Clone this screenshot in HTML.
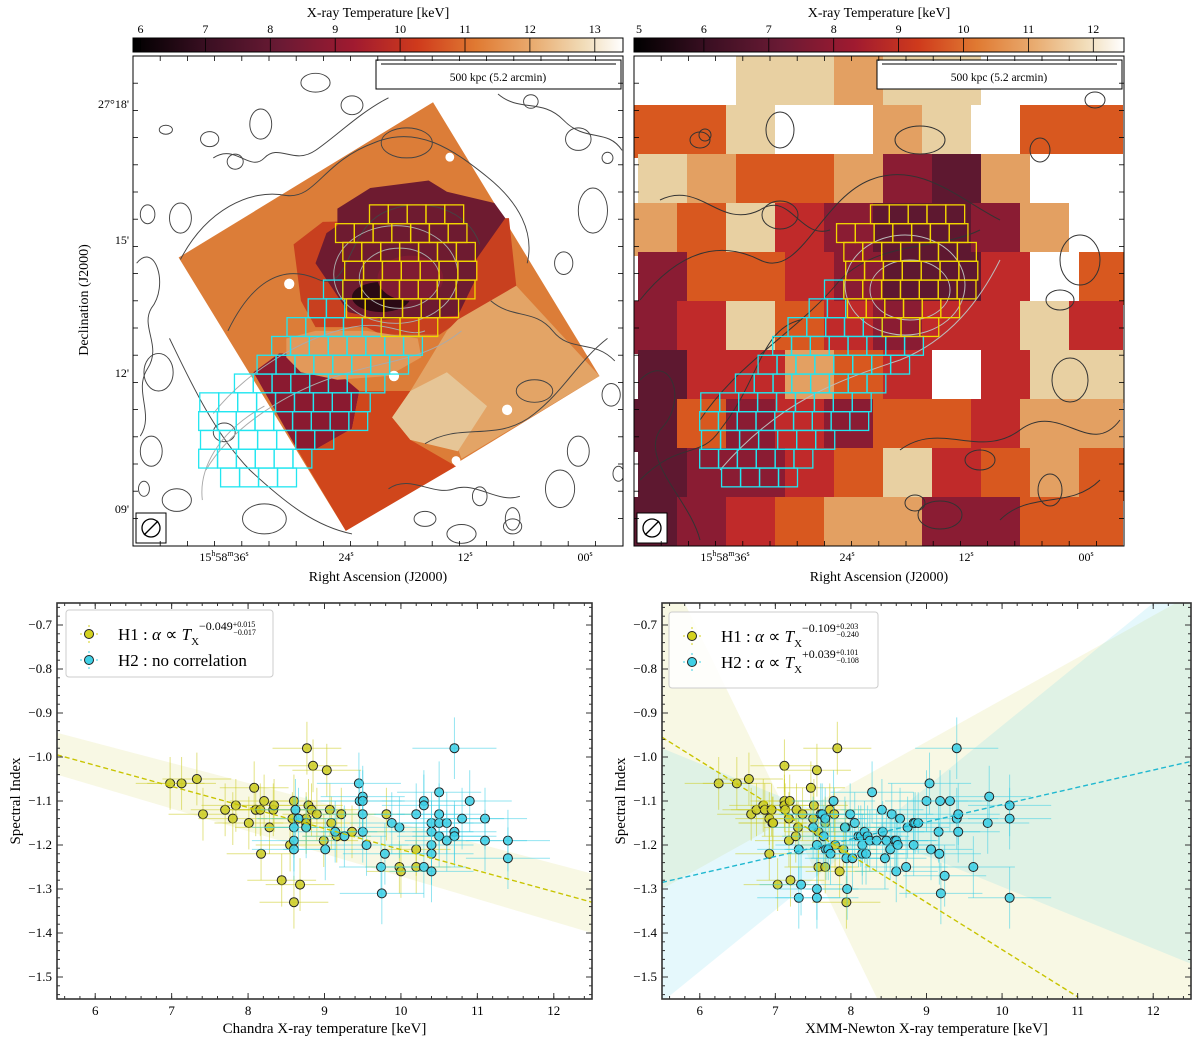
<!DOCTYPE html>
<html><head><meta charset="utf-8"><style>
html,body{margin:0;padding:0;background:#fff;width:1200px;height:1045px;overflow:hidden}
svg{display:block;font-family:"Liberation Serif",serif}
</style></head><body>
<svg id="fig" width="1200" height="1045" viewBox="0 0 1200 1045" xmlns="http://www.w3.org/2000/svg">
<defs>
<linearGradient id="cmap" x1="0" x2="1" y1="0" y2="0">
<stop offset="0" stop-color="#000"/><stop offset="0.15" stop-color="#3a0f22"/><stop offset="0.3" stop-color="#6a1a34"/><stop offset="0.45" stop-color="#a01a30"/><stop offset="0.58" stop-color="#cf3a1c"/><stop offset="0.7" stop-color="#e07a32"/><stop offset="0.82" stop-color="#e9ad72"/><stop offset="0.92" stop-color="#f1dcb8"/><stop offset="1" stop-color="#fff"/>
</linearGradient>
<clipPath id="clipL"><rect x="133" y="56" width="490" height="490"/></clipPath>
<clipPath id="clipR"><rect x="634" y="56" width="490" height="490"/></clipPath>
<clipPath id="clipP1"><rect x="57" y="603" width="535" height="396"/></clipPath>
<clipPath id="clipP2"><rect x="662" y="603" width="529" height="396"/></clipPath>
</defs>

<!-- ===== Top-left map ===== -->
<g>
<text x="378" y="17" text-anchor="middle" font-size="14">X-ray Temperature [keV]</text>
<rect x="133" y="38" width="490" height="14" fill="url(#cmap)" stroke="#000" stroke-width="1"/>
<g id="cbtL" font-size="12" text-anchor="middle"></g>
<rect x="133" y="56" width="490" height="490" fill="#fff"/>
<g clip-path="url(#clipL)">
<g transform="translate(60,0) scale(0.365,0.376)">
<polygon points="1022,272 1478,1000 783,1412 325,685" fill="#dc7d38"/>
<polygon points="530,990 600,940 700,940 820,1040 800,1140 700,1195 650,1195" fill="#8a1a30"/>
<polygon points="650,1195 783,1412 1085,1240 960,1170 910,1110 960,1040 820,1040 800,1140 700,1195" fill="#d0461b"/>
<polygon points="640,650 720,590 1230,580 1250,760 1100,850 1040,890 880,890 840,870 700,870 660,800" fill="#c8401f"/>
<polygon points="1090,850 1250,760 1478,1000 1100,1220 1085,1180 960,1170 910,1110 960,1040 1060,880" fill="#e3a466"/>
<polygon points="960,1040 1060,990 1170,1080 1090,1200 960,1170 910,1110" fill="#e6c596"/>
<polygon points="620,900 700,880 840,880 980,900 990,950 900,1000 760,1010 660,990 620,950" fill="#e2995a"/>
<polygon points="760,555 850,500 1010,480 1060,510 1190,540 1220,580 1140,690 1140,740 1090,840 880,850 790,830 700,700 730,620 760,600" fill="#6e1b30"/>
<ellipse cx="880" cy="790" rx="80" ry="40" fill="#2a0a14"/>
<ellipse cx="960" cy="740" rx="90" ry="60" fill="#801c32"/>
<circle cx="628" cy="755" r="14" fill="#fff"/><circle cx="915" cy="1000" r="14" fill="#fff"/><circle cx="1225" cy="1090" r="14" fill="#fff"/><circle cx="1068" cy="418" r="12" fill="#fff"/><circle cx="1085" cy="1225" r="12" fill="#fff"/>
<g fill="none" stroke="#444" stroke-width="2.6">
<path d="M330,690 C400,560 520,500 620,520 C700,530 720,430 860,380 C980,330 1080,400 1170,470 C1260,540 1300,620 1280,700"/>
<path d="M460,880 C520,760 600,700 700,740 C800,790 780,600 900,560 C1000,520 1120,560 1150,650"/>
<path d="M300,900 C350,1000 420,1150 520,1250 C620,1340 700,1400 800,1420"/>
<path d="M1000,1180 C1100,1120 1200,1180 1300,1100 C1380,1040 1420,960 1500,900"/>
<path d="M210,700 C260,640 300,760 250,820 C220,870 280,920 240,980 C200,1040 260,1100 220,1160"/>
<path d="M420,420 C480,380 520,460 560,420 C600,380 640,440 700,400 C760,360 820,300 900,260"/>
<path d="M1200,250 C1260,300 1320,260 1380,320 C1440,380 1500,340 1540,400"/>
<path d="M1180,800 C1240,850 1300,820 1350,880 C1400,940 1460,900 1520,960"/>
<path d="M900,1300 C960,1260 1020,1320 1080,1300 C1140,1280 1200,1340 1260,1320"/>
<ellipse cx="950" cy="380" rx="70" ry="40"/><ellipse cx="550" cy="330" rx="30" ry="40"/><ellipse cx="1420" cy="370" rx="35" ry="30"/>
<ellipse cx="410" cy="370" rx="25" ry="20"/><ellipse cx="1370" cy="1300" rx="40" ry="50"/><ellipse cx="1300" cy="1040" rx="50" ry="30"/>
<ellipse cx="330" cy="580" rx="30" ry="40"/><ellipse cx="270" cy="990" rx="40" ry="50"/><ellipse cx="1100" cy="1420" rx="40" ry="25"/>
<ellipse cx="250" cy="1200" rx="30" ry="40"/><ellipse cx="1240" cy="1380" rx="20" ry="30"/><ellipse cx="1460" cy="560" rx="40" ry="60"/>
<ellipse cx="290" cy="345" rx="18" ry="12"/><ellipse cx="480" cy="430" rx="22" ry="20"/><ellipse cx="240" cy="570" rx="20" ry="25"/>
<ellipse cx="700" cy="220" rx="40" ry="25"/><ellipse cx="800" cy="280" rx="30" ry="25"/><ellipse cx="1290" cy="270" rx="20" ry="18"/>
<ellipse cx="1500" cy="420" rx="15" ry="15"/><ellipse cx="1380" cy="700" rx="25" ry="30"/><ellipse cx="1510" cy="1050" rx="25" ry="30"/>
<ellipse cx="1420" cy="1200" rx="30" ry="40"/><ellipse cx="1240" cy="1400" rx="25" ry="20"/><ellipse cx="560" cy="1380" rx="60" ry="40"/>
<ellipse cx="320" cy="1330" rx="40" ry="30"/><ellipse cx="450" cy="1150" rx="30" ry="25"/><ellipse cx="230" cy="1300" rx="15" ry="20"/>
<ellipse cx="1000" cy="1380" rx="30" ry="20"/><ellipse cx="1150" cy="1320" rx="20" ry="25"/><ellipse cx="1530" cy="1260" rx="15" ry="20"/>
</g>
<g fill="none" stroke="#aaa" stroke-width="2.6">
<ellipse cx="930" cy="740" rx="110" ry="80"/><ellipse cx="920" cy="730" rx="170" ry="130"/>
<path d="M420,1100 C500,1000 650,900 800,870 C900,850 950,900 1000,880"/>
<path d="M400,1250 C460,1150 600,1050 760,1000 C880,960 1000,960 1100,880"/>
<path d="M390,1330 C380,1250 430,1150 560,1080"/>
</g>
</g>
<rect x="376" y="60" width="245" height="29" fill="#fff" stroke="#000" stroke-width="1"/>
<line x1="381" y1="64" x2="616" y2="64" stroke="#000" stroke-width="1"/>
<text x="498" y="81" text-anchor="middle" font-size="11.5">500 kpc (5.2 arcmin)</text>
<g id="gridL" fill="none" stroke-width="1.3"></g>
<rect x="136" y="513" width="30" height="30" fill="#fff" stroke="#000" stroke-width="1"/>
<circle cx="151" cy="528" r="9" fill="none" stroke="#000" stroke-width="1.3"/><line x1="144" y1="535" x2="158" y2="521" stroke="#000" stroke-width="1.3"/>
</g>
<rect x="133" y="56" width="490" height="490" fill="none" stroke="#000" stroke-width="1"/>
<g id="mtL"></g>
<g font-size="12">
<text x="129" y="108" text-anchor="end">27°18'</text><text x="129" y="244" text-anchor="end">15'</text><text x="129" y="377" text-anchor="end">12'</text><text x="129" y="513" text-anchor="end">09'</text>
<text x="224" y="561" text-anchor="middle">15<tspan font-size="8" dy="-5">h</tspan><tspan dy="5">58</tspan><tspan font-size="8" dy="-5">m</tspan><tspan dy="5">36</tspan><tspan font-size="8" dy="-5">s</tspan></text>
<text x="346" y="561" text-anchor="middle">24<tspan font-size="8" dy="-5">s</tspan></text><text x="465" y="561" text-anchor="middle">12<tspan font-size="8" dy="-5">s</tspan></text><text x="585" y="561" text-anchor="middle">00<tspan font-size="8" dy="-5">s</tspan></text>
</g>
<text x="378" y="581" text-anchor="middle" font-size="14">Right Ascension (J2000)</text>
<text transform="translate(88,300) rotate(-90)" text-anchor="middle" font-size="14">Declination (J2000)</text>
</g>

<!-- ===== Top-right map ===== -->
<g>
<text x="879" y="17" text-anchor="middle" font-size="14">X-ray Temperature [keV]</text>
<rect x="634" y="38" width="490" height="14" fill="url(#cmap)" stroke="#000" stroke-width="1"/>
<g id="cbtR" font-size="12" text-anchor="middle"></g>
<rect x="634" y="56" width="490" height="490" fill="#fff"/>
<g clip-path="url(#clipR)">
<g id="patchR"></g>
<g fill="none" stroke="#333" stroke-width="1">
<path d="M640,300 C680,250 720,240 760,260 C800,280 820,200 870,180 C920,160 960,200 1000,220"/>
<path d="M700,420 C740,360 800,330 840,280 C880,240 940,250 980,230"/>
<path d="M640,480 C680,440 700,460 720,430 C760,380 760,330 800,320"/>
<path d="M900,450 C940,420 980,460 1020,430 C1060,400 1090,460 1120,420"/>
<path d="M660,200 C700,180 720,230 760,210 C790,190 800,240 830,230"/>
<path d="M640,380 C670,350 690,400 660,430 C640,460 690,500 700,540"/>
<path d="M1000,520 C1030,490 1070,510 1100,480"/>
<ellipse cx="780" cy="130" rx="14" ry="18"/><ellipse cx="920" cy="140" rx="25" ry="14"/><ellipse cx="1050" cy="490" rx="12" ry="16"/>
<ellipse cx="700" cy="140" rx="10" ry="8"/><ellipse cx="1080" cy="260" rx="20" ry="25"/><ellipse cx="1095" cy="100" rx="10" ry="8"/>
<ellipse cx="940" cy="515" rx="22" ry="14"/><ellipse cx="780" cy="215" rx="18" ry="14"/>
<ellipse cx="705" cy="135" rx="6" ry="6"/><ellipse cx="1040" cy="150" rx="10" ry="12"/>
<ellipse cx="1070" cy="380" rx="18" ry="22"/><ellipse cx="980" cy="460" rx="15" ry="10"/><ellipse cx="1060" cy="300" rx="14" ry="10"/>
<ellipse cx="915" cy="503" rx="10" ry="8"/>
</g>
<g fill="none" stroke="#bbb" stroke-width="1">
<ellipse cx="910" cy="290" rx="40" ry="30"/><ellipse cx="905" cy="285" rx="60" ry="50"/>
<path d="M720,470 C780,400 840,380 900,360 C950,340 980,300 1000,260"/>
</g>
<rect x="877" y="60" width="245" height="29" fill="#fff" stroke="#000" stroke-width="1"/>
<line x1="882" y1="64" x2="1117" y2="64" stroke="#000" stroke-width="1"/>
<text x="999" y="81" text-anchor="middle" font-size="11.5">500 kpc (5.2 arcmin)</text>
<g id="gridR" fill="none" stroke-width="1.3"></g>
<rect x="637" y="513" width="30" height="30" fill="#fff" stroke="#000" stroke-width="1"/>
<circle cx="652" cy="528" r="9" fill="none" stroke="#000" stroke-width="1.3"/><line x1="645" y1="535" x2="659" y2="521" stroke="#000" stroke-width="1.3"/>
</g>
<rect x="634" y="56" width="490" height="490" fill="none" stroke="#000" stroke-width="1"/>
<g id="mtR"></g>
<g font-size="12">
<text x="725" y="561" text-anchor="middle">15<tspan font-size="8" dy="-5">h</tspan><tspan dy="5">58</tspan><tspan font-size="8" dy="-5">m</tspan><tspan dy="5">36</tspan><tspan font-size="8" dy="-5">s</tspan></text>
<text x="847" y="561" text-anchor="middle">24<tspan font-size="8" dy="-5">s</tspan></text><text x="966" y="561" text-anchor="middle">12<tspan font-size="8" dy="-5">s</tspan></text><text x="1086" y="561" text-anchor="middle">00<tspan font-size="8" dy="-5">s</tspan></text>
</g>
<text x="879" y="581" text-anchor="middle" font-size="14">Right Ascension (J2000)</text>
</g>

<!-- ===== Scatter panels ===== -->
<g id="p1"></g>
<g id="p2"></g>
</svg>

<script>
// ---------- scatter data (bottom-left, Chandra) ----------
const c1H1T = [6.98,7.13,7.33,7.41,7.7,7.8,7.84,8.01,8.08,8.1,8.16,8.21,8.28,8.33,8.34,8.17,8.44,8.55,8.58,8.6,8.6,8.68,8.76,8.76,8.76,8.77,8.79,8.83,8.85,8.9,8.99,9.03,9.07,9.09,9.16,9.22,9.36,9.81,9.98,10.0,10.2,10.2];
const c1H1A = [-1.06,-1.06,-1.05,-1.13,-1.12,-1.14,-1.11,-1.15,-1.07,-1.12,-1.12,-1.10,-1.16,-1.12,-1.11,-1.22,-1.28,-1.20,-1.14,-1.10,-1.33,-1.29,-1.14,-1.15,-1.16,-0.98,-1.11,-1.12,-1.02,-1.13,-1.19,-1.03,-1.12,-1.15,-1.18,-1.13,-1.17,-1.13,-1.25,-1.26,-1.21,-1.25];
const c1H2T = [8.6,8.6,8.6,8.62,8.66,8.76,9.01,9.14,9.26,9.45,9.46,9.5,9.5,9.5,9.5,9.55,9.74,9.75,9.79,9.88,9.98,10.2,10.3,10.3,10.3,10.4,10.4,10.4,10.4,10.4,10.5,10.5,10.5,10.5,10.6,10.6,10.7,10.7,10.7,10.8,10.9,11.1,11.1,11.4,11.4];
const c1H2A = [-1.16,-1.19,-1.21,-1.12,-1.14,-1.16,-1.21,-1.17,-1.18,-1.06,-1.10,-1.09,-1.10,-1.13,-1.17,-1.20,-1.25,-1.31,-1.22,-1.15,-1.16,-1.13,-1.10,-1.11,-1.25,-1.15,-1.17,-1.20,-1.22,-1.26,-1.08,-1.13,-1.15,-1.18,-1.15,-1.19,-0.98,-1.17,-1.18,-1.14,-1.10,-1.14,-1.19,-1.19,-1.23];
const c1FitT = [5.5,12.5];
const c1FitA = [-0.995,-1.33];
const c1BandHi = [-0.945,-1.265];
const c1BandLo = [-1.04,-1.40];
// ---------- scatter data (bottom-right, XMM) ----------
const c2H1T = [6.25,6.49,6.65,6.68,6.75,6.84,6.86,6.92,6.92,6.95,6.96,6.97,7.03,7.12,7.12,7.12,7.13,7.18,7.18,7.19,7.2,7.27,7.28,7.3,7.36,7.47,7.5,7.51,7.55,7.57,7.57,7.66,7.66,7.72,7.78,7.79,7.82,7.85,7.9,7.94,7.93];
const c2H1A = [-1.06,-1.06,-1.05,-1.13,-1.12,-1.11,-1.12,-1.14,-1.22,-1.12,-1.15,-1.15,-1.29,-1.02,-1.10,-1.11,-1.12,-1.14,-1.19,-1.10,-1.28,-1.18,-1.12,-1.16,-1.13,-1.07,-1.14,-1.11,-1.03,-1.17,-1.25,-1.25,-1.15,-1.12,-1.13,-1.20,-0.98,-1.26,-1.21,-1.33,-1.16];
const c2H2T = [7.31,7.31,7.34,7.5,7.55,7.55,7.55,7.6,7.62,7.64,7.66,7.67,7.7,7.73,7.77,7.92,7.94,7.95,7.99,8.02,8.05,8.1,8.13,8.15,8.15,8.18,8.2,8.22,8.25,8.28,8.34,8.41,8.42,8.45,8.47,8.52,8.54,8.58,8.6,8.6,8.62,8.65,8.73,8.75,8.83,8.83,8.85,8.89,9.0,9.04,9.06,9.16,9.17,9.18,9.19,9.24,9.31,9.4,9.4,9.42,9.42,9.62,9.81,9.83,10.1,10.1,10.1];
const c2H2A = [-1.21,-1.32,-1.29,-1.16,-1.20,-1.30,-1.32,-1.13,-1.13,-1.18,-1.14,-1.21,-1.21,-1.22,-1.10,-1.16,-1.23,-1.30,-1.13,-1.23,-1.15,-1.18,-1.18,-1.20,-1.22,-1.17,-1.22,-1.18,-1.19,-1.08,-1.19,-1.12,-1.17,-1.23,-1.19,-1.21,-1.13,-1.19,-1.19,-1.26,-1.20,-1.14,-1.25,-1.16,-1.15,-1.20,-1.15,-1.15,-1.10,-1.06,-1.21,-1.17,-1.22,-1.10,-1.31,-1.27,-1.10,-0.98,-1.14,-1.13,-1.17,-1.25,-1.15,-1.09,-1.11,-1.14,-1.32];
const c2FitH1T = [5.5,11.0];
const c2FitH1A = [-0.955,-1.545];
const c2FitH2T = [5.5,12.5];
const c2FitH2A = [-1.285,-1.01];
const c2BandH1aT = [5.8,8.35];
const c2BandH1aA = [-0.65,-1.55];
const c2BandH1bT = [5.5,12.3];
const c2BandH1bA = [-1.30,-0.65];
const c2BandH2aT = [5.5,12.5];
const c2BandH2aA = [-0.98,-1.47];
const c2BandH2bT = [5.55,12.0];
const c2BandH2bA = [-1.55,-0.65];
const xTicks = [6,7,8,9,10,11,12];
const yTicks = [-0.7,-0.8,-0.9,-1.0,-1.1,-1.2,-1.3,-1.4,-1.5];
const yTickLabels = ["\u22120.7","\u22120.8","\u22120.9","\u22121.0","\u22121.1","\u22121.2","\u22121.3","\u22121.4","\u22121.5"];
const cbTicksL = [6,7,8,9,10,11,12,13];
const cbTicksR = [5,6,7,8,9,10,11,12];
const xErrH1 = 0.45, yErrH1 = 0.06, xErrH2 = 0.55, yErrH2 = 0.07;

const NS = "http://www.w3.org/2000/svg";
function mk(tag, attrs, parent){ const e=document.createElementNS(NS,tag); for(const k in attrs) e.setAttribute(k,attrs[k]); if(parent) parent.appendChild(e); return e; }

function cbTicks(id, vals, x0, step){
  const g=document.getElementById(id);
  vals.forEach((v,i)=>{
    const x=x0+i*step;
    const t=mk('text',{x:x,y:33},g); t.textContent=v;
    
    
    mk('line',{x1:x,y1:38,x2:x,y2:52,stroke:'#000','stroke-width':0.8},g);
  });
}
cbTicks('cbtL', cbTicksL, 140.5, 64.9);
cbTicks('cbtR', cbTicksR, 639, 64.9);

function mapTicks(id,x0){
  const g=document.getElementById(id);
  for(let i=1;i<18;i++){ const x=x0+i*27.2, y=56+i*27.2;
    mk('line',{x1:x,y1:546,x2:x,y2:541,stroke:'#000','stroke-width':0.8},g);
    mk('line',{x1:x,y1:56,x2:x,y2:61,stroke:'#000','stroke-width':0.8},g);
    mk('line',{x1:x0,y1:y,x2:x0+5,y2:y,stroke:'#000','stroke-width':0.8},g);
    mk('line',{x1:x0+490,y1:y,x2:x0+485,y2:y,stroke:'#000','stroke-width':0.8},g);
  }
}
mapTicks('mtL',133); mapTicks('mtR',634);

const patchRows = ["WWBBLBBWWW","OOBWWLBWOO","BLOOLMDLWW","LOBRMDDMLW","MOORMDDRWO","MRBORMRRBR","DRRLORWRBB","DOMRMOORLL","DMMROBROLO","DMROLLMMOO"];
const pc = {W:'#ffffff',B:'#e8d0a2',L:'#e3a062',O:'#d8581f',R:'#c02a2a',M:'#8a1c33',D:'#5e1830'};
(function(){
  const g=document.getElementById('patchR');
  patchRows.forEach((row,r)=>{ [...row].forEach((ch,c)=>{
    const x=Math.max(634,634+c*49+(r%2?-6:4)); const w=Math.min(1124,634+c*49+(r%2?-6:4)+54)-x;
    const p=mk('rect',{x:x,y:56+r*49,width:w,height:Math.min(53,546-(56+r*49)),fill:pc[ch]},g);
    
    
  });});
})();

const yRows=[[545,848,1106],[595,755,1115],[645,775,1138],[695,780,1142],[745,775,1137],[795,785,1092],[845,880,1035]];
const cRows=[[745,722,775],[795,680,780],[845,622,880],[895,580,993],[945,540,955],[995,478,890],[1045,383,850],[1095,380,843],[1145,385,750],[1195,380,690],[1245,440,648]];
function grid(id, dx){
  const g=document.getElementById(id);
  const draw=(rows,col,name)=>rows.forEach(rw=>{
    const y=rw[0]/2.66, x0=60+rw[1]/2.74, x1=60+rw[2]/2.74, h=50/2.66;
    const n=Math.max(1,Math.round((x1-x0)/19)); const w=(x1-x0)/n;
    for(let i=0;i<n;i++){ const r=mk('rect',{x:x0+i*w+dx,y:y,width:w,height:h,stroke:col},g);
      
       }
  });
  draw(cRows,'#22e6f0','region-h2-cell');
  draw(yRows,'#f2d600','region-h1-cell');
}
grid('gridL',0); grid('gridR',501);

// polygon clip to data box [5.5,12.5]x[-1.55,-0.65]
function clipPoly(pts){
  const edges=[[p=>p[0]>=5.5,(a,b)=>{const t=(5.5-a[0])/(b[0]-a[0]);return [5.5,a[1]+t*(b[1]-a[1])];}],
    [p=>p[0]<=12.5,(a,b)=>{const t=(12.5-a[0])/(b[0]-a[0]);return [12.5,a[1]+t*(b[1]-a[1])];}],
    [p=>p[1]>=-1.55,(a,b)=>{const t=(-1.55-a[1])/(b[1]-a[1]);return [a[0]+t*(b[0]-a[0]),-1.55];}],
    [p=>p[1]<=-0.65,(a,b)=>{const t=(-0.65-a[1])/(b[1]-a[1]);return [a[0]+t*(b[0]-a[0]),-0.65];}]];
  let out=pts;
  edges.forEach(([ins,isect])=>{ const inp=out; out=[];
    for(let i=0;i<inp.length;i++){ const cur=inp[i], prev=inp[(i+inp.length-1)%inp.length];
      if(ins(cur)){ if(!ins(prev)) out.push(isect(prev,cur)); out.push(cur); }
      else if(ins(prev)) out.push(isect(prev,cur)); } });
  return out;
}

function panel(gid, L, R, clip, xlabel){
  const g=document.getElementById(gid);
  const T=603,B=999;
  const sx=v=>L+(v-5.5)/7*(R-L), sy=v=>T+(-0.65-v)/0.9*(B-T);
  const body=mk('g',{'clip-path':'url(#'+clip+')'},g);
  return {g,body,sx,sy,T,B,L,R,finish(){
    mk('rect',{x:L,y:T,width:R-L,height:B-T,fill:'none',stroke:'#333','stroke-width':1.6},g);
    xTicks.forEach(v=>{ const x=sx(v);
      mk('line',{x1:x,y1:B,x2:x,y2:B-6,stroke:'#333'},g); mk('line',{x1:x,y1:T,x2:x,y2:T+6,stroke:'#333'},g);
      const t=mk('text',{x:x,y:1015,'text-anchor':'middle','font-size':13},g); t.textContent=v;
      
       });
    for(let v=5.6;v<12.5;v+=0.2){ const x=sx(v); mk('line',{x1:x,y1:B,x2:x,y2:B-3,stroke:'#333'},g); mk('line',{x1:x,y1:T,x2:x,y2:T+3,stroke:'#333'},g); }
    yTicks.forEach((v,i)=>{ const y=sy(v);
      mk('line',{x1:L,y1:y,x2:L+6,y2:y,stroke:'#333'},g); mk('line',{x1:R,y1:y,x2:R-6,y2:y,stroke:'#333'},g);
      const t=mk('text',{x:L-5,y:y+4,'text-anchor':'end','font-size':13},g); t.textContent=yTickLabels[i];
      
       });
    for(let v=-0.66;v>-1.55;v-=0.02){ const y=sy(v); mk('line',{x1:L,y1:y,x2:L+3,y2:y,stroke:'#333'},g); mk('line',{x1:R,y1:y,x2:R-3,y2:y,stroke:'#333'},g); }
    const xl=mk('text',{x:(L+R)/2,y:1033,'text-anchor':'middle','font-size':15},g); xl.textContent=xlabel;
    
    
    const yl=mk('text',{transform:'translate('+(L-37)+','+((T+B)/2)+') rotate(-90)','text-anchor':'middle','font-size':15},g); yl.textContent='Spectral Index';
    
    
  }};
}
function points(P, Ts, As, xe, ye, col, name){
  const g=mk('g',{},P.body);
  Ts.forEach((t,i)=>{ const x=P.sx(t), y=P.sy(As[i]);
    const eb=mk('g',{stroke:col,'stroke-width':1,opacity:0.55},g);
    mk('line',{x1:P.sx(Math.max(5.5,t-xe)),y1:y,x2:P.sx(Math.min(12.5,t+xe)),y2:y},eb);
    mk('line',{x1:x,y1:P.sy(As[i]+ye),x2:x,y2:P.sy(As[i]-ye)},eb);
    const c=mk('circle',{cx:x,cy:y,r:4.5,fill:col,'fill-opacity':0.85,stroke:'#222','stroke-width':1},g);
    
    
  });
}
function line(P, Ts, As, col){ const l=mk('line',{x1:P.sx(Ts[0]),y1:P.sy(As[0]),x2:P.sx(Ts[1]),y2:P.sy(As[1]),stroke:col,'stroke-width':1.4,'stroke-dasharray':'5,3'},P.body);
    }
function lineAt(Ts,As,t){ return As[0]+(As[1]-As[0])*(t-Ts[0])/(Ts[1]-Ts[0]); }
function polyDraw(P, pts, col){
  const c=clipPoly(pts); if(c.length<3) return;
  const pg=mk('polygon',{points:c.map(q=>P.sx(q[0])+','+P.sy(q[1])).join(' '),fill:col,'fill-opacity':0.16},P.body);
   
}
function bowtie(P, aT,aA,bT,bA, col){
  const sa=(aA[1]-aA[0])/(aT[1]-aT[0]), sb=(bA[1]-bA[0])/(bT[1]-bT[0]);
  const ti=(bA[0]-sb*bT[0]-aA[0]+sa*aT[0])/(sa-sb), ai=lineAt(aT,aA,ti);
  const lo=3,hi=15;
  polyDraw(P,[[lo,lineAt(aT,aA,lo)],[ti,ai],[lo,lineAt(bT,bA,lo)]],col);
  polyDraw(P,[[hi,lineAt(aT,aA,hi)],[ti,ai],[hi,lineAt(bT,bA,hi)]],col);
}
function legend(P, x,y,w,h, l1, l2){
  const g=mk('g',{},P.g);
  
  
  mk('rect',{x:x,y:y,width:w,height:h,rx:3,fill:'#fff','fill-opacity':0.85,stroke:'#ccc'},g);
  [[l1,'#d4d21e',y+24],[l2,'#3fd0e6',y+50]].forEach(e=>{
    const cy=e[2]; const col=e[1];
    mk('line',{x1:x+14,y1:cy,x2:x+32,y2:cy,stroke:col,'stroke-dasharray':'2,2'},g);
    mk('line',{x1:x+23,y1:cy-9,x2:x+23,y2:cy+9,stroke:col,'stroke-dasharray':'2,2'},g);
    mk('circle',{cx:x+23,cy:cy,r:4.5,fill:col,stroke:'#222'},g);
    const t=mk('text',{x:x+52,y:cy+6,'font-size':17},g); t.innerHTML=e[0];
    
    
  });
}
const P1=panel('p1',57,592,'clipP1','Chandra X-ray temperature [keV]');
polyDraw(P1,[[5.5,c1BandHi[0]],[12.5,c1BandHi[1]],[12.5,c1BandLo[1]],[5.5,c1BandLo[0]]],'#d4d35a');
points(P1,c1H1T,c1H1A,xErrH1,yErrH1,'#cccc22','h1-point');
points(P1,c1H2T,c1H2A,xErrH2,yErrH2,'#3ccfe6','h2-point');
line(P1,c1FitT,c1FitA,'#c8c400');
P1.finish();
legend(P1,66,610,207,67,'H1 : <tspan font-style="italic">α</tspan> ∝ <tspan font-style="italic">T</tspan><tspan font-size="11" dy="5">X</tspan><tspan font-size="12" dy="-15">−0.049</tspan><tspan font-size="8" dy="-3">+0.015</tspan><tspan font-size="8" dx="-22" dy="8">−0.017</tspan>','H2 : no correlation');
const P2=panel('p2',662,1191,'clipP2','XMM-Newton X-ray temperature [keV]');
bowtie(P2,c2BandH1aT,c2BandH1aA,c2BandH1bT,c2BandH1bA,'#d4d35a');
bowtie(P2,c2BandH2aT,c2BandH2aA,c2BandH2bT,c2BandH2bA,'#5fd3ea');
points(P2,c2H1T,c2H1A,xErrH1,yErrH1,'#cccc22','h1-point');
points(P2,c2H2T,c2H2A,xErrH2,yErrH2,'#3ccfe6','h2-point');
line(P2,c2FitH1T,c2FitH1A,'#c8c400');
line(P2,c2FitH2T,c2FitH2A,'#20b8d0');
P2.finish();
legend(P2,669,612,209,76,'H1 : <tspan font-style="italic">α</tspan> ∝ <tspan font-style="italic">T</tspan><tspan font-size="11" dy="5">X</tspan><tspan font-size="12" dy="-15">−0.109</tspan><tspan font-size="8" dy="-3">+0.203</tspan><tspan font-size="8" dx="-22" dy="8">−0.240</tspan>','H2 : <tspan font-style="italic">α</tspan> ∝ <tspan font-style="italic">T</tspan><tspan font-size="11" dy="5">X</tspan><tspan font-size="12" dy="-15">+0.039</tspan><tspan font-size="8" dy="-3">+0.101</tspan><tspan font-size="8" dx="-22" dy="8">−0.108</tspan>');
</script>
</body></html>
